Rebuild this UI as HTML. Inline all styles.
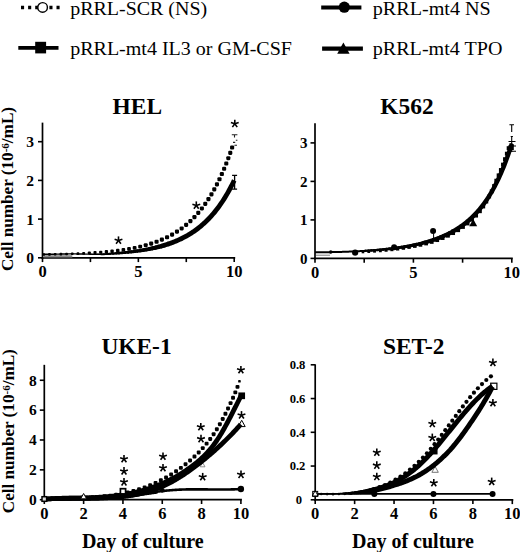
<!DOCTYPE html>
<html><head><meta charset="utf-8"><style>
html,body{margin:0;padding:0;background:#fff}
svg{display:block}
text{font-family:"Liberation Serif",serif;fill:#000}
.lg{font-size:19.4px}
.tt{font-size:23.4px;font-weight:bold}
.tk{font-size:16.5px;font-weight:bold}
.xl{font-size:20px;font-weight:bold}
.yl{font-size:16.3px;font-weight:bold}
</style></head><body>
<svg width="520" height="552" viewBox="0 0 520 552">
<rect width="520" height="552" fill="#fff"/>
<g>
<path d="M21 7.5 H61" fill="none" stroke="#000" stroke-width="3.4" stroke-linecap="butt" stroke-linejoin="round" stroke-dasharray="3.1 4"/>
<circle cx="42.60" cy="7.40" r="4.8" fill="#fff" stroke="#000" stroke-width="1.4"/>
<text x="70.2" y="14.7" class="lg" textLength="137" lengthAdjust="spacingAndGlyphs">pRRL-SCR (NS)</text>
<path d="M18.3 47.9 H58.5" fill="none" stroke="#000" stroke-width="3.7" stroke-linecap="butt" stroke-linejoin="round"/>
<rect x="35.2" y="41.8" width="10.9" height="11.6" fill="#000"/>
<text x="70.2" y="54.7" class="lg" textLength="221.8" lengthAdjust="spacingAndGlyphs">pRRL-mt4 IL3 or GM-CSF</text>
<path d="M321.2 7.4 H361.4" fill="none" stroke="#000" stroke-width="4" stroke-linecap="butt" stroke-linejoin="round"/>
<circle cx="344.30" cy="7.20" r="5.6" fill="#000" stroke="#000" stroke-width="0"/>
<text x="372.8" y="14.7" class="lg" textLength="118" lengthAdjust="spacingAndGlyphs">pRRL-mt4 NS</text>
<path d="M322.1 48.6 H362.9" fill="none" stroke="#000" stroke-width="4.2" stroke-linecap="butt" stroke-linejoin="round"/>
<path d="M343.4 42.6 L349.6 53.7 L337.2 53.7 Z" fill="#000"/>
<text x="372.8" y="54.7" class="lg" textLength="129.6" lengthAdjust="spacingAndGlyphs">pRRL-mt4 TPO</text>
</g>
<text x="137.3" y="114" text-anchor="middle" class="tt">HEL</text>
<line x1="42.50" y1="122.62" x2="42.50" y2="258.80" stroke="#000" stroke-width="1.7"/>
<line x1="41.50" y1="257.80" x2="235.20" y2="257.80" stroke="#000" stroke-width="1.7"/>
<line x1="42.50" y1="257.80" x2="42.50" y2="262.10" stroke="#000" stroke-width="1.6"/>
<line x1="90.43" y1="257.80" x2="90.43" y2="262.10" stroke="#000" stroke-width="1.6"/>
<line x1="138.35" y1="257.80" x2="138.35" y2="262.10" stroke="#000" stroke-width="1.6"/>
<line x1="186.28" y1="257.80" x2="186.28" y2="262.10" stroke="#000" stroke-width="1.6"/>
<line x1="234.20" y1="257.80" x2="234.20" y2="262.10" stroke="#000" stroke-width="1.6"/>
<line x1="38.00" y1="257.80" x2="42.50" y2="257.80" stroke="#000" stroke-width="1.6"/>
<line x1="38.00" y1="219.10" x2="42.50" y2="219.10" stroke="#000" stroke-width="1.6"/>
<line x1="38.00" y1="180.40" x2="42.50" y2="180.40" stroke="#000" stroke-width="1.6"/>
<line x1="38.00" y1="141.70" x2="42.50" y2="141.70" stroke="#000" stroke-width="1.6"/>
<text x="42.50" y="277.10" text-anchor="middle" class="tk">0</text>
<text x="138.35" y="277.10" text-anchor="middle" class="tk">5</text>
<text x="234.20" y="277.10" text-anchor="middle" class="tk">10</text>
<text x="34.10" y="263.20" text-anchor="end" class="tk" style="font-size:15.5px">0</text>
<text x="34.10" y="224.50" text-anchor="end" class="tk" style="font-size:15.5px">1</text>
<text x="34.10" y="185.80" text-anchor="end" class="tk" style="font-size:15.5px">2</text>
<text x="34.10" y="147.10" text-anchor="end" class="tk" style="font-size:15.5px">3</text>
<rect x="43.3" y="255.2" width="29" height="2.3" fill="#8a8a8a"/>
<path d="M42.50 254.33 L43.51 254.31 L44.52 254.30 L45.53 254.29 L46.54 254.28 L47.54 254.27 L48.55 254.26 L49.56 254.24 L50.57 254.23 L51.58 254.22 L52.59 254.20 L53.60 254.19 L54.61 254.17 L55.62 254.16 L56.63 254.14 L57.63 254.13 L58.64 254.11 L59.65 254.10 L60.66 254.08 L61.67 254.06 L62.68 254.04 L63.69 254.02 L64.70 254.00 L65.71 253.98 L66.71 253.96 L67.72 253.94 L68.73 253.92 L69.74 253.90 L70.75 253.88 L71.76 253.85 L72.77 253.83 L73.78 253.86 L74.79 253.88 L75.80 253.91 L76.80 253.93 L77.81 253.96 L78.82 253.98 L79.83 254.00 L80.84 254.02 L81.85 254.04 L82.86 254.06 L83.87 254.08 L84.88 254.10 L85.88 254.12 L86.89 254.13 L87.90 254.15 L88.91 254.16 L89.92 254.18 L90.93 254.19 L91.94 254.20" fill="none" stroke="#000" stroke-width="1.4" stroke-linecap="butt" stroke-linejoin="round"/>
<path d="M91.94 254.20 L92.95 254.21 L93.96 254.22 L94.97 254.22" fill="none" stroke="#000" stroke-width="1.4" stroke-linecap="round" stroke-linejoin="round"/>
<path d="M94.97 254.22 L95.97 254.23 L96.98 254.23 L97.99 254.24" fill="none" stroke="#000" stroke-width="1.53266" stroke-linecap="round" stroke-linejoin="round"/>
<path d="M97.99 254.24 L99.00 254.24 L100.01 254.24 L101.02 254.24" fill="none" stroke="#000" stroke-width="1.66807" stroke-linecap="round" stroke-linejoin="round"/>
<path d="M101.02 254.24 L102.03 254.24 L103.04 254.23 L104.05 254.18" fill="none" stroke="#000" stroke-width="1.80348" stroke-linecap="round" stroke-linejoin="round"/>
<path d="M104.05 254.18 L105.05 254.12 L106.06 254.06 L107.07 254.00" fill="none" stroke="#000" stroke-width="1.93889" stroke-linecap="round" stroke-linejoin="round"/>
<path d="M107.07 254.00 L108.08 253.93 L109.09 253.87 L110.10 253.80" fill="none" stroke="#000" stroke-width="2.0743" stroke-linecap="round" stroke-linejoin="round"/>
<path d="M110.10 253.80 L111.11 253.73 L112.12 253.66 L113.13 253.58" fill="none" stroke="#000" stroke-width="2.20971" stroke-linecap="round" stroke-linejoin="round"/>
<path d="M113.13 253.58 L114.14 253.51 L115.14 253.43 L116.15 253.35" fill="none" stroke="#000" stroke-width="2.34512" stroke-linecap="round" stroke-linejoin="round"/>
<path d="M116.15 253.35 L117.16 253.27 L118.17 253.18 L119.18 253.10" fill="none" stroke="#000" stroke-width="2.48054" stroke-linecap="round" stroke-linejoin="round"/>
<path d="M119.18 253.10 L120.19 253.01 L121.20 252.92 L122.21 252.82" fill="none" stroke="#000" stroke-width="2.61595" stroke-linecap="round" stroke-linejoin="round"/>
<path d="M122.21 252.82 L123.22 252.73 L124.22 252.63 L125.23 252.52" fill="none" stroke="#000" stroke-width="2.75136" stroke-linecap="round" stroke-linejoin="round"/>
<path d="M125.23 252.52 L126.24 252.42 L127.25 252.31 L128.26 252.20" fill="none" stroke="#000" stroke-width="2.88677" stroke-linecap="round" stroke-linejoin="round"/>
<path d="M128.26 252.20 L129.27 252.08 L130.28 251.97 L131.29 251.84" fill="none" stroke="#000" stroke-width="3.02218" stroke-linecap="round" stroke-linejoin="round"/>
<path d="M131.29 251.84 L132.30 251.72 L133.31 251.59 L134.31 251.46" fill="none" stroke="#000" stroke-width="3.15759" stroke-linecap="round" stroke-linejoin="round"/>
<path d="M134.31 251.46 L135.32 251.32 L136.33 251.18 L137.34 251.04" fill="none" stroke="#000" stroke-width="3.293" stroke-linecap="round" stroke-linejoin="round"/>
<path d="M137.34 251.04 L138.35 250.89 L139.36 250.74 L140.37 250.59" fill="none" stroke="#000" stroke-width="3.42842" stroke-linecap="round" stroke-linejoin="round"/>
<path d="M140.37 250.59 L141.38 250.43 L142.39 250.26 L143.39 250.09" fill="none" stroke="#000" stroke-width="3.56383" stroke-linecap="round" stroke-linejoin="round"/>
<path d="M143.39 250.09 L144.40 249.92 L145.41 249.74 L146.42 249.55" fill="none" stroke="#000" stroke-width="3.69924" stroke-linecap="round" stroke-linejoin="round"/>
<path d="M146.42 249.55 L147.43 249.36 L148.44 249.17 L149.45 248.97" fill="none" stroke="#000" stroke-width="3.83465" stroke-linecap="round" stroke-linejoin="round"/>
<path d="M149.45 248.97 L150.46 248.76 L151.47 248.55 L152.48 248.33" fill="none" stroke="#000" stroke-width="3.97006" stroke-linecap="round" stroke-linejoin="round"/>
<path d="M152.48 248.33 L153.48 248.11 L154.49 247.88 L155.50 247.64" fill="none" stroke="#000" stroke-width="4.10547" stroke-linecap="round" stroke-linejoin="round"/>
<path d="M155.50 247.64 L156.51 247.40 L157.52 247.15 L158.53 246.89" fill="none" stroke="#000" stroke-width="4.24088" stroke-linecap="round" stroke-linejoin="round"/>
<path d="M158.53 246.89 L159.54 246.63 L160.55 246.35 L161.56 246.07" fill="none" stroke="#000" stroke-width="4.3763" stroke-linecap="round" stroke-linejoin="round"/>
<path d="M161.56 246.07 L162.56 245.79 L163.57 245.49 L164.58 245.18" fill="none" stroke="#000" stroke-width="4.51171" stroke-linecap="round" stroke-linejoin="round"/>
<path d="M164.58 245.18 L165.59 244.87 L166.60 244.55 L167.61 244.22" fill="none" stroke="#000" stroke-width="4.64712" stroke-linecap="round" stroke-linejoin="round"/>
<path d="M167.61 244.22 L168.62 243.88 L169.63 243.53 L170.64 243.17 L171.65 242.80 L172.65 242.42 L173.66 242.03 L174.67 241.62 L175.68 241.21 L176.69 240.78 L177.70 240.35 L178.71 239.90 L179.72 239.43 L180.73 238.96 L181.73 238.47 L182.74 237.97 L183.75 237.45 L184.76 236.92 L185.77 236.37 L186.78 235.81 L187.79 235.23 L188.80 234.64 L189.81 234.02 L190.82 233.40 L191.82 232.75 L192.83 232.08 L193.84 231.40 L194.85 230.70 L195.86 229.97 L196.87 229.23 L197.88 228.47 L198.89 227.68 L199.90 226.87 L200.90 226.04 L201.91 225.19 L202.92 224.31 L203.93 223.40 L204.94 222.47 L205.95 221.52 L206.96 220.54 L207.97 219.53 L208.98 218.49 L209.99 217.42 L210.99 216.32 L212.00 215.19 L213.01 214.03 L214.02 212.84 L215.03 211.61 L216.04 210.34 L217.05 209.05 L218.06 207.71 L219.07 206.34 L220.07 204.93 L221.08 203.47 L222.09 201.98 L223.10 200.45 L224.11 198.87 L225.12 197.24 L226.13 195.57 L227.14 193.86 L228.15 192.09 L229.16 190.28 L230.16 188.41 L231.17 186.49 L232.18 184.52 L233.19 182.49 L234.20 180.40" fill="none" stroke="#000" stroke-width="4.8" stroke-linecap="butt" stroke-linejoin="round"/>
<g fill="#000"><rect x="230.07" y="145.43" width="4.10" height="4.10" rx="1.15"/><rect x="228.22" y="150.82" width="4.10" height="4.10" rx="1.15"/><rect x="226.27" y="156.17" width="4.10" height="4.10" rx="1.15"/><rect x="224.22" y="161.49" width="4.10" height="4.10" rx="1.15"/><rect x="222.08" y="166.77" width="4.10" height="4.10" rx="1.15"/><rect x="219.81" y="172.01" width="4.10" height="4.10" rx="1.15"/><rect x="217.43" y="177.18" width="4.10" height="4.10" rx="1.15"/><rect x="214.90" y="182.29" width="4.10" height="4.10" rx="1.15"/><rect x="212.23" y="187.33" width="4.10" height="4.10" rx="1.15"/><rect x="209.40" y="192.28" width="4.10" height="4.10" rx="1.15"/><rect x="206.40" y="197.12" width="4.10" height="4.10" rx="1.15"/><rect x="203.21" y="201.84" width="4.10" height="4.10" rx="1.15"/><rect x="199.82" y="206.42" width="4.10" height="4.10" rx="1.15"/><rect x="196.22" y="210.84" width="4.10" height="4.10" rx="1.15"/><rect x="192.39" y="215.07" width="4.10" height="4.10" rx="1.15"/><rect x="188.35" y="219.09" width="4.10" height="4.10" rx="1.15"/><rect x="184.08" y="222.86" width="4.10" height="4.10" rx="1.15"/><rect x="179.60" y="226.38" width="4.10" height="4.10" rx="1.15"/><rect x="174.91" y="229.62" width="4.10" height="4.10" rx="1.15"/><rect x="170.04" y="232.58" width="4.10" height="4.10" rx="1.15"/><rect x="165.00" y="235.24" width="4.10" height="4.10" rx="1.15"/><rect x="159.82" y="237.61" width="4.10" height="4.10" rx="1.15"/><rect x="154.52" y="239.72" width="4.10" height="4.10" rx="1.15"/><rect x="149.13" y="241.56" width="4.10" height="4.10" rx="1.15"/><rect x="143.70" y="243.21" width="4.02" height="4.02" rx="1.13"/><rect x="138.23" y="244.66" width="3.92" height="3.92" rx="1.10"/><rect x="132.71" y="245.92" width="3.81" height="3.81" rx="1.07"/><rect x="127.16" y="247.02" width="3.71" height="3.71" rx="1.04"/><rect x="121.58" y="247.97" width="3.60" height="3.60" rx="1.01"/><rect x="115.99" y="248.79" width="3.50" height="3.50" rx="0.98"/><rect x="110.38" y="249.50" width="3.39" height="3.39" rx="0.95"/><rect x="104.76" y="250.12" width="3.28" height="3.28" rx="0.92"/><rect x="99.13" y="250.66" width="3.18" height="3.18" rx="0.89"/><rect x="93.50" y="251.12" width="3.07" height="3.07" rx="0.86"/><rect x="87.87" y="251.53" width="2.96" height="2.96" rx="0.83"/><rect x="82.23" y="251.89" width="2.86" height="2.86" rx="0.80"/><rect x="76.59" y="252.20" width="2.75" height="2.75" rx="0.77"/><rect x="70.94" y="252.47" width="2.64" height="2.64" rx="0.74"/><rect x="65.27" y="252.68" width="2.60" height="2.60" rx="0.73"/><rect x="59.57" y="252.85" width="2.60" height="2.60" rx="0.73"/><rect x="53.87" y="252.98" width="2.60" height="2.60" rx="0.73"/><rect x="48.17" y="253.10" width="2.60" height="2.60" rx="0.73"/><rect x="42.48" y="253.20" width="2.60" height="2.60" rx="0.73"/></g>
<path d="M234.60 175.40 V189.10 M232.10 175.40 H237.10 M232.10 189.10 H237.10" stroke="#000" stroke-width="1.3" fill="none"/>
<path d="M231.8 134.7 H237.4 M234.5 134.7 V137.5 M235.8 140.3 h1.6 M233 142.4 h2.2 M234.4 145.2 h2.6" stroke="#222" stroke-width="1.1" fill="none"/>
<g stroke="#000" stroke-width="1.60" stroke-linecap="butt"><line x1="118.50" y1="240.50" x2="118.50" y2="236.40"/><line x1="118.50" y1="240.50" x2="122.40" y2="239.23"/><line x1="118.50" y1="240.50" x2="114.60" y2="239.23"/><line x1="118.50" y1="240.50" x2="120.91" y2="243.82"/><line x1="118.50" y1="240.50" x2="116.09" y2="243.82"/></g>
<g stroke="#000" stroke-width="1.60" stroke-linecap="butt"><line x1="196.30" y1="205.50" x2="196.30" y2="201.40"/><line x1="196.30" y1="205.50" x2="200.20" y2="204.23"/><line x1="196.30" y1="205.50" x2="192.40" y2="204.23"/><line x1="196.30" y1="205.50" x2="198.71" y2="208.82"/><line x1="196.30" y1="205.50" x2="193.89" y2="208.82"/></g>
<g stroke="#000" stroke-width="1.60" stroke-linecap="butt"><line x1="234.80" y1="123.80" x2="234.80" y2="119.70"/><line x1="234.80" y1="123.80" x2="238.70" y2="122.53"/><line x1="234.80" y1="123.80" x2="230.90" y2="122.53"/><line x1="234.80" y1="123.80" x2="237.21" y2="127.12"/><line x1="234.80" y1="123.80" x2="232.39" y2="127.12"/></g>
<text x="407" y="114" text-anchor="middle" class="tt">K562</text>
<line x1="315.00" y1="123.15" x2="315.00" y2="259.40" stroke="#000" stroke-width="1.7"/>
<line x1="314.00" y1="258.40" x2="512.80" y2="258.40" stroke="#000" stroke-width="1.7"/>
<line x1="315.00" y1="258.40" x2="315.00" y2="262.70" stroke="#000" stroke-width="1.6"/>
<line x1="364.20" y1="258.40" x2="364.20" y2="262.70" stroke="#000" stroke-width="1.6"/>
<line x1="413.40" y1="258.40" x2="413.40" y2="262.70" stroke="#000" stroke-width="1.6"/>
<line x1="462.60" y1="258.40" x2="462.60" y2="262.70" stroke="#000" stroke-width="1.6"/>
<line x1="511.80" y1="258.40" x2="511.80" y2="262.70" stroke="#000" stroke-width="1.6"/>
<line x1="310.50" y1="258.40" x2="315.00" y2="258.40" stroke="#000" stroke-width="1.6"/>
<line x1="310.50" y1="219.90" x2="315.00" y2="219.90" stroke="#000" stroke-width="1.6"/>
<line x1="310.50" y1="181.40" x2="315.00" y2="181.40" stroke="#000" stroke-width="1.6"/>
<line x1="310.50" y1="142.90" x2="315.00" y2="142.90" stroke="#000" stroke-width="1.6"/>
<text x="315.00" y="277.70" text-anchor="middle" class="tk">0</text>
<text x="413.40" y="277.70" text-anchor="middle" class="tk">5</text>
<text x="511.80" y="277.70" text-anchor="middle" class="tk">10</text>
<text x="307.40" y="263.60" text-anchor="end" class="tk" style="font-size:15px">0</text>
<text x="307.40" y="225.10" text-anchor="end" class="tk" style="font-size:15px">1</text>
<text x="307.40" y="186.60" text-anchor="end" class="tk" style="font-size:15px">2</text>
<text x="307.40" y="148.10" text-anchor="end" class="tk" style="font-size:15px">3</text>
<path d="M315.00 252.27 L315.98 252.27 L316.97 252.27 L317.95 252.26 L318.94 252.26 L319.92 252.25 L320.90 252.25 L321.89 252.24 L322.87 252.23 L323.86 252.22 L324.84 252.21 L325.82 252.20 L326.81 252.19 L327.79 252.17 L328.78 252.16 L329.76 252.14 L330.74 252.13 L331.73 252.11 L332.71 252.09 L333.70 252.07 L334.68 252.05 L335.66 252.03 L336.65 252.01 L337.63 251.99 L338.62 251.96 L339.60 251.94 L340.58 251.91 L341.57 251.88 L342.55 251.85 L343.54 251.82 L344.52 251.79 L345.50 251.76 L346.49 251.72 L347.47 251.69 L348.46 251.65 L349.44 251.62 L350.42 251.58 L351.41 251.54 L352.39 251.50 L353.38 251.46 L354.36 251.41 L355.34 251.37 L356.33 251.32 L357.31 251.27 L358.30 251.23 L359.28 251.17 L360.26 251.12 L361.25 251.07 L362.23 251.02 L363.22 250.96 L364.20 250.90 L365.18 250.84 L366.17 250.78 L367.15 250.72 L368.14 250.65 L369.12 250.59 L370.10 250.52 L371.09 250.45 L372.07 250.38 L373.06 250.31 L374.04 250.23 L375.02 250.16 L376.01 250.08 L376.99 250.00 L377.98 249.91 L378.96 249.83 L379.94 249.74 L380.93 249.65 L381.91 249.56 L382.90 249.47 L383.88 249.37 L384.86 249.28 L385.85 249.18 L386.83 249.07 L387.82 248.97 L388.80 248.86 L389.78 248.75 L390.77 248.64 L391.75 248.52 L392.74 248.40 L393.72 248.28 L394.70 248.16 L395.69 248.03 L396.67 247.90 L397.66 247.77 L398.64 247.63 L399.62 247.49 L400.61 247.34 L401.59 247.20 L402.58 247.05 L403.56 246.89 L404.54 246.73 L405.53 246.57 L406.51 246.41 L407.50 246.24 L408.48 246.06 L409.46 245.89 L410.45 245.70 L411.43 245.52 L412.42 245.32 L413.40 245.13 L414.38 244.93 L415.37 244.72 L416.35 244.51 L417.34 244.29 L418.32 244.07 L419.30 243.85 L420.29 243.61 L421.27 243.38 L422.26 243.13 L423.24 242.88 L424.22 242.62 L425.21 242.36 L426.19 242.09 L427.18 241.81 L428.16 241.53 L429.14 241.24 L430.13 240.94 L431.11 240.64 L432.10 240.32 L433.08 240.00 L434.06 239.67 L435.05 239.33 L436.03 238.99 L437.02 238.63 L438.00 238.27 L438.98 237.89 L439.97 237.51 L440.95 237.11 L441.94 236.71 L442.92 236.29 L443.90 235.87 L444.89 235.43 L445.87 234.98 L446.86 234.52 L447.84 234.05 L448.82 233.56 L449.81 233.06 L450.79 232.55 L451.78 232.02 L452.76 231.48 L453.74 230.93 L454.73 230.36 L455.71 229.77 L456.70 229.17 L457.68 228.55 L458.66 227.91 L459.65 227.26 L460.63 226.59 L461.62 225.90 L462.60 225.19 L463.58 224.46 L464.57 223.71 L465.55 222.94 L466.54 222.15 L467.52 221.33 L468.50 220.49 L469.49 219.63 L470.47 218.74 L471.46 217.83 L472.44 216.89 L473.42 215.93 L474.41 214.93 L475.39 213.91 L476.38 212.86 L477.36 211.77 L478.34 210.66 L479.33 209.51 L480.31 208.33 L481.30 207.11 L482.28 205.86 L483.26 204.57 L484.25 203.24 L485.23 201.87 L486.22 200.46 L487.20 199.01 L488.18 197.51 L489.17 195.97 L490.15 194.38 L491.14 192.74 L492.12 191.05 L493.10 189.31 L494.09 187.52 L495.07 185.67 L496.06 183.76 L497.04 181.79 L498.02 179.76 L499.01 177.67 L499.99 175.52 L500.98 173.29 L501.96 170.99 L502.94 168.62 L503.93 166.18 L504.91 163.66 L505.90 161.05 L506.88 158.37 L507.86 155.59 L508.85 152.73 L509.83 149.78 L510.82 146.72 L511.80 143.57" fill="none" stroke="#000" stroke-width="2" stroke-linecap="butt" stroke-linejoin="round"/>
<path d="M473.20 219.08 L477.20 226.28 L469.20 226.28 Z" fill="#000" stroke="#000" stroke-width="0"/>
<g fill="#000"><rect x="361.65" y="250.66" width="2.62" height="2.62"/><rect x="367.39" y="250.26" width="2.73" height="2.73"/><rect x="373.12" y="249.81" width="2.83" height="2.83"/><rect x="378.85" y="249.29" width="2.94" height="2.94"/><rect x="384.57" y="248.70" width="3.05" height="3.05"/><rect x="390.28" y="248.03" width="3.15" height="3.15"/><rect x="395.99" y="247.27" width="3.26" height="3.26"/><rect x="401.68" y="246.40" width="3.37" height="3.37"/><rect x="407.35" y="245.42" width="3.47" height="3.47"/><rect x="413.00" y="244.30" width="3.58" height="3.58"/><rect x="418.61" y="243.03" width="3.69" height="3.69"/><rect x="424.19" y="241.59" width="3.79" height="3.79"/><rect x="429.72" y="239.95" width="3.89" height="3.89"/><rect x="435.22" y="238.13" width="3.90" height="3.90"/><rect x="440.64" y="236.07" width="3.90" height="3.90"/><rect x="445.96" y="233.74" width="3.90" height="3.90"/><rect x="451.13" y="231.12" width="3.90" height="3.90"/><rect x="456.15" y="228.22" width="3.90" height="3.90"/><rect x="460.98" y="225.00" width="3.90" height="3.90"/><rect x="465.59" y="221.49" width="3.90" height="3.90"/><rect x="469.98" y="217.70" width="3.90" height="3.90"/><rect x="474.12" y="213.64" width="3.90" height="3.90"/><rect x="477.92" y="209.27" width="3.90" height="3.90"/><rect x="481.27" y="204.53" width="3.90" height="3.90"/><rect x="484.35" y="199.62" width="3.90" height="3.90"/><rect x="487.18" y="194.56" width="3.90" height="3.90"/><rect x="489.78" y="189.37" width="3.90" height="3.90"/><rect x="492.16" y="184.08" width="3.90" height="3.90"/><rect x="494.35" y="178.71" width="3.90" height="3.90"/><rect x="496.68" y="173.40" width="3.90" height="3.90"/><rect x="498.93" y="168.06" width="3.90" height="3.90"/><rect x="501.05" y="162.66" width="3.90" height="3.90"/><rect x="503.04" y="157.21" width="3.90" height="3.90"/><rect x="504.91" y="151.72" width="3.90" height="3.90"/><rect x="506.69" y="146.20" width="3.90" height="3.90"/></g>
<path d="M360.26 251.12 L361.26 251.07 L362.26 251.01" fill="none" stroke="#000" stroke-width="2" stroke-linecap="butt" stroke-linejoin="round"/>
<path d="M362.26 251.01 L363.26 250.96 L364.26 250.90 L365.26 250.84" fill="none" stroke="#000" stroke-width="2.00704" stroke-linecap="round" stroke-linejoin="round"/>
<path d="M365.26 250.84 L366.26 250.78 L367.26 250.71 L368.26 250.65" fill="none" stroke="#000" stroke-width="2.08704" stroke-linecap="round" stroke-linejoin="round"/>
<path d="M368.26 250.65 L369.26 250.58 L370.26 250.51 L371.26 250.44" fill="none" stroke="#000" stroke-width="2.16704" stroke-linecap="round" stroke-linejoin="round"/>
<path d="M371.26 250.44 L372.26 250.37 L373.26 250.29 L374.26 250.22" fill="none" stroke="#000" stroke-width="2.24704" stroke-linecap="round" stroke-linejoin="round"/>
<path d="M374.26 250.22 L375.26 250.14 L376.26 250.06 L377.26 249.97" fill="none" stroke="#000" stroke-width="2.32704" stroke-linecap="round" stroke-linejoin="round"/>
<path d="M377.26 249.97 L378.26 249.89 L379.26 249.80 L380.26 249.71" fill="none" stroke="#000" stroke-width="2.40704" stroke-linecap="round" stroke-linejoin="round"/>
<path d="M380.26 249.71 L381.26 249.62 L382.26 249.53 L383.26 249.43" fill="none" stroke="#000" stroke-width="2.48704" stroke-linecap="round" stroke-linejoin="round"/>
<path d="M383.26 249.43 L384.26 249.34 L385.26 249.24 L386.26 249.13" fill="none" stroke="#000" stroke-width="2.56704" stroke-linecap="round" stroke-linejoin="round"/>
<path d="M386.26 249.13 L387.26 249.03 L388.26 248.92 L389.26 248.81" fill="none" stroke="#000" stroke-width="2.64704" stroke-linecap="round" stroke-linejoin="round"/>
<path d="M389.26 248.81 L390.26 248.70 L391.26 248.58 L392.26 248.46" fill="none" stroke="#000" stroke-width="2.72704" stroke-linecap="round" stroke-linejoin="round"/>
<path d="M392.26 248.46 L393.26 248.34 L394.26 248.21 L395.26 248.08" fill="none" stroke="#000" stroke-width="2.80704" stroke-linecap="round" stroke-linejoin="round"/>
<path d="M395.26 248.08 L396.26 247.95 L397.26 247.82 L398.26 247.68" fill="none" stroke="#000" stroke-width="2.88704" stroke-linecap="round" stroke-linejoin="round"/>
<path d="M398.26 247.68 L399.26 247.54 L400.26 247.39 L401.26 247.25" fill="none" stroke="#000" stroke-width="2.96704" stroke-linecap="round" stroke-linejoin="round"/>
<path d="M401.26 247.25 L402.26 247.09 L403.26 246.94 L404.26 246.78" fill="none" stroke="#000" stroke-width="3.04704" stroke-linecap="round" stroke-linejoin="round"/>
<path d="M404.26 246.78 L405.26 246.62 L406.26 246.45 L407.26 246.28" fill="none" stroke="#000" stroke-width="3.12704" stroke-linecap="round" stroke-linejoin="round"/>
<path d="M407.26 246.28 L408.26 246.10 L409.26 245.92 L410.26 245.74" fill="none" stroke="#000" stroke-width="3.20704" stroke-linecap="round" stroke-linejoin="round"/>
<path d="M410.26 245.74 L411.26 245.55 L412.26 245.35 L413.26 245.16" fill="none" stroke="#000" stroke-width="3.28704" stroke-linecap="round" stroke-linejoin="round"/>
<path d="M413.26 245.16 L414.26 244.95 L415.26 244.74 L416.26 244.53" fill="none" stroke="#000" stroke-width="3.36704" stroke-linecap="round" stroke-linejoin="round"/>
<path d="M416.26 244.53 L417.26 244.31 L418.26 244.09 L419.26 243.86" fill="none" stroke="#000" stroke-width="3.44704" stroke-linecap="round" stroke-linejoin="round"/>
<path d="M419.26 243.86 L420.26 243.62 L421.26 243.38 L422.26 243.13" fill="none" stroke="#000" stroke-width="3.52704" stroke-linecap="round" stroke-linejoin="round"/>
<path d="M422.26 243.13 L423.26 242.87 L424.26 242.61 L425.26 242.35" fill="none" stroke="#000" stroke-width="3.60704" stroke-linecap="round" stroke-linejoin="round"/>
<path d="M425.26 242.35 L426.26 242.07 L427.26 241.79 L428.26 241.50" fill="none" stroke="#000" stroke-width="3.68704" stroke-linecap="round" stroke-linejoin="round"/>
<path d="M428.26 241.50 L429.26 241.20 L430.26 240.90 L431.26 240.59" fill="none" stroke="#000" stroke-width="3.76704" stroke-linecap="round" stroke-linejoin="round"/>
<path d="M431.26 240.59 L432.26 240.27 L433.26 239.94 L434.26 239.60" fill="none" stroke="#000" stroke-width="3.84704" stroke-linecap="round" stroke-linejoin="round"/>
<path d="M434.26 239.60 L435.26 239.26 L436.26 238.90 L437.26 238.54" fill="none" stroke="#000" stroke-width="3.92704" stroke-linecap="round" stroke-linejoin="round"/>
<path d="M437.26 238.54 L438.26 238.17 L439.26 237.78 L440.26 237.39" fill="none" stroke="#000" stroke-width="4.00704" stroke-linecap="round" stroke-linejoin="round"/>
<path d="M440.26 237.39 L441.26 236.99 L442.26 236.57 L443.26 236.14" fill="none" stroke="#000" stroke-width="4.08704" stroke-linecap="round" stroke-linejoin="round"/>
<path d="M443.26 236.14 L444.26 235.71 L445.26 235.26 L446.26 234.80" fill="none" stroke="#000" stroke-width="4.16704" stroke-linecap="round" stroke-linejoin="round"/>
<path d="M446.26 234.80 L447.26 234.32 L448.26 233.84 L449.26 233.34" fill="none" stroke="#000" stroke-width="4.24704" stroke-linecap="round" stroke-linejoin="round"/>
<path d="M449.26 233.34 L450.26 232.82 L451.26 232.30 L452.26 231.75" fill="none" stroke="#000" stroke-width="4.32704" stroke-linecap="round" stroke-linejoin="round"/>
<path d="M452.26 231.75 L453.26 231.20 L454.26 230.63 L455.26 230.04 L456.26 229.43 L457.26 228.81 L458.26 228.17 L459.26 227.52 L460.26 226.84 L461.26 226.15 L462.26 225.43 L463.26 224.70 L464.26 223.94 L465.26 223.17 L466.26 222.37 L467.26 221.54 L468.26 220.70 L469.26 219.83 L470.26 218.93 L471.26 218.01 L472.26 217.06 L473.26 216.08 L474.26 215.08 L475.26 214.04 L476.26 212.98 L477.26 211.88 L478.26 210.75 L479.26 209.59 L480.26 208.38 L481.26 207.15 L482.26 205.88 L483.26 204.57 L484.26 203.21 L485.26 201.82 L486.26 200.39 L487.26 198.91 L488.26 197.38 L489.26 195.81 L490.26 194.19 L491.26 192.52 L492.26 190.80 L493.26 189.02 L494.26 187.19 L495.26 185.30 L496.26 183.34 L497.26 181.33 L498.26 179.26 L499.26 177.11 L500.26 174.90 L501.26 172.62 L502.26 170.26 L503.26 167.83 L504.26 165.33 L505.26 162.73 L506.26 160.05 L507.26 157.30 L508.26 154.44 L509.26 151.49 L510.26 148.45 L511.26 145.30 L511.80 143.57" fill="none" stroke="#000" stroke-width="4.4" stroke-linecap="butt" stroke-linejoin="round"/>
<circle cx="330.74" cy="252.05" r="1.8" fill="#000" stroke="#000" stroke-width="0"/>
<circle cx="355.15" cy="252.70" r="3.1" fill="#000" stroke="#000" stroke-width="0"/>
<path d="M316 255.2 H330" stroke="#555" stroke-width="0.8"/>
<circle cx="394.11" cy="247.23" r="3" fill="#000" stroke="#000" stroke-width="0"/>
<circle cx="433.08" cy="231.06" r="3" fill="#000" stroke="#000" stroke-width="0"/>
<path d="M433.6 233.5 V238.5 M432 238.5 h3.4" stroke="#000" stroke-width="1" fill="none"/>
<rect x="508.80" y="145.00" width="5" height="5" fill="#000" stroke="#000" stroke-width="0"/>
<path d="M509.4 124.8 H514 M511.7 124.8 V132 M510.7 136.5 H512.9 M511.7 136 V152 M508.5 141.5 H515.5 M508.5 146 H516 M508.5 151.3 H516" stroke="#000" stroke-width="1.1" fill="none"/>
<text x="136.5" y="354" text-anchor="middle" class="tt">UKE-1</text>
<line x1="44.30" y1="364.83" x2="44.30" y2="500.70" stroke="#000" stroke-width="1.7"/>
<line x1="43.30" y1="499.70" x2="241.90" y2="499.70" stroke="#000" stroke-width="1.7"/>
<line x1="44.30" y1="499.70" x2="44.30" y2="504.00" stroke="#000" stroke-width="1.6"/>
<line x1="83.62" y1="499.70" x2="83.62" y2="504.00" stroke="#000" stroke-width="1.6"/>
<line x1="122.94" y1="499.70" x2="122.94" y2="504.00" stroke="#000" stroke-width="1.6"/>
<line x1="162.26" y1="499.70" x2="162.26" y2="504.00" stroke="#000" stroke-width="1.6"/>
<line x1="201.58" y1="499.70" x2="201.58" y2="504.00" stroke="#000" stroke-width="1.6"/>
<line x1="240.90" y1="499.70" x2="240.90" y2="504.00" stroke="#000" stroke-width="1.6"/>
<line x1="39.80" y1="499.70" x2="44.30" y2="499.70" stroke="#000" stroke-width="1.6"/>
<line x1="39.80" y1="469.84" x2="44.30" y2="469.84" stroke="#000" stroke-width="1.6"/>
<line x1="39.80" y1="439.98" x2="44.30" y2="439.98" stroke="#000" stroke-width="1.6"/>
<line x1="39.80" y1="410.12" x2="44.30" y2="410.12" stroke="#000" stroke-width="1.6"/>
<line x1="39.80" y1="380.26" x2="44.30" y2="380.26" stroke="#000" stroke-width="1.6"/>
<text x="44.30" y="519.00" text-anchor="middle" class="tk">0</text>
<text x="83.62" y="519.00" text-anchor="middle" class="tk">2</text>
<text x="122.94" y="519.00" text-anchor="middle" class="tk">4</text>
<text x="162.26" y="519.00" text-anchor="middle" class="tk">6</text>
<text x="201.58" y="519.00" text-anchor="middle" class="tk">8</text>
<text x="240.90" y="519.00" text-anchor="middle" class="tk">10</text>
<text x="36.70" y="505.00" text-anchor="end" class="tk" style="font-size:15.5px">0</text>
<text x="36.70" y="475.14" text-anchor="end" class="tk" style="font-size:15.5px">2</text>
<text x="36.70" y="445.28" text-anchor="end" class="tk" style="font-size:15.5px">4</text>
<text x="36.70" y="415.42" text-anchor="end" class="tk" style="font-size:15.5px">6</text>
<text x="36.70" y="385.56" text-anchor="end" class="tk" style="font-size:15.5px">8</text>
<rect x="238.35" y="392.45" width="6.7" height="6.7" fill="#000" stroke="#000" stroke-width="0"/>
<path d="M241.70 420.28 L245.20 426.58 L238.20 426.58 Z" fill="#fff" stroke="#000" stroke-width="1"/>
<path d="M202.6 462.5 L205 466.8 L200.2 466.8 Z" fill="#fff" stroke="#777" stroke-width="0.8"/>
<path d="M44.30 499.23 L45.30 499.19 L46.30 499.15 L47.30 499.11 L48.30 499.08 L49.30 499.05 L50.30 499.02 L51.30 498.99 L52.30 498.97 L53.30 498.95 L54.30 498.93 L55.30 498.91 L56.30 498.89 L57.30 498.88 L58.30 498.87 L59.30 498.86 L60.30 498.85 L61.30 498.84 L62.30 498.83 L63.30 498.82 L64.30 498.82 L65.30 498.81 L66.30 498.81 L67.30 498.81 L68.30 498.80 L69.30 498.80 L70.30 498.80 L71.30 498.80 L72.30 498.80 L73.30 498.80 L74.30 498.79 L75.30 498.79 L76.30 498.79 L77.30 498.78 L78.30 498.78 L79.30 498.78 L80.30 498.77 L81.30 498.76 L82.30 498.76 L83.30 498.75 L84.30 498.74 L85.30 498.72 L86.30 498.71 L87.30 498.70 L88.30 498.68 L89.30 498.66 L90.30 498.64 L91.30 498.62 L92.30 498.59 L93.30 498.56 L94.30 498.54 L95.30 498.50 L96.30 498.47 L97.30 498.43 L98.30 498.39 L99.30 498.34 L100.30 498.30 L101.30 498.25 L102.30 498.19 L103.30 498.14 L104.30 498.08 L105.30 498.01 L106.30 497.94 L107.30 497.87 L108.30 497.80 L109.30 497.72 L110.30 497.64 L111.30 497.56 L112.30 497.47 L113.30 497.38 L114.30 497.29 L115.30 497.19 L116.30 497.10 L117.30 496.99 L118.30 496.89 L119.30 496.79 L120.30 496.68 L121.30 496.57 L122.30 496.45 L123.30 496.34 L124.30 496.22 L125.30 496.10 L126.30 495.98 L127.30 495.86 L128.30 495.73 L129.30 495.61 L130.30 495.48 L131.30 495.35 L132.30 495.22 L133.30 495.08 L134.30 494.95 L135.30 494.81 L136.30 494.68 L137.30 494.54 L138.30 494.40 L139.30 494.26 L140.30 494.11 L141.30 493.97 L142.30 493.83 L143.30 493.68 L144.30 493.54 L145.30 493.39 L146.30 493.25 L147.30 493.10 L148.30 492.95 L149.30 492.81 L150.30 492.67 L151.30 492.52 L152.30 492.38 L153.30 492.24 L154.30 492.10 L155.30 491.97 L156.30 491.83 L157.30 491.70 L158.30 491.57 L159.30 491.44 L160.30 491.32 L161.30 491.20 L162.30 491.08 L163.30 490.97 L164.30 490.86 L165.30 490.76 L166.30 490.65 L167.30 490.56 L168.30 490.46 L169.30 490.37 L170.30 490.28 L171.30 490.20 L172.30 490.12 L173.30 490.04 L174.30 489.97 L175.30 489.91 L176.30 489.84 L177.30 489.78 L178.30 489.73 L179.30 489.67 L180.30 489.63 L181.30 489.58 L182.30 489.54 L183.30 489.51 L184.30 489.48 L185.30 489.45 L186.30 489.42 L187.30 489.40 L188.30 489.38 L189.30 489.37 L190.30 489.35 L191.30 489.34 L192.30 489.34 L193.30 489.33 L194.30 489.33 L195.30 489.33 L196.30 489.33 L197.30 489.33 L198.30 489.33 L199.30 489.34 L200.30 489.35 L201.30 489.35 L202.30 489.36 L203.30 489.37 L204.30 489.38 L205.30 489.40 L206.30 489.41 L207.30 489.42 L208.30 489.43 L209.30 489.44 L210.30 489.46 L211.30 489.47 L212.30 489.48 L213.30 489.49 L214.30 489.50 L215.30 489.51 L216.30 489.52 L217.30 489.52 L218.30 489.53 L219.30 489.54 L220.30 489.54 L221.30 489.54 L222.30 489.54 L223.30 489.54 L224.30 489.53 L225.30 489.52 L226.30 489.51 L227.30 489.50 L228.30 489.49 L229.30 489.47 L230.30 489.45 L231.30 489.42 L232.30 489.40 L233.30 489.37 L234.30 489.33 L235.30 489.29 L236.30 489.25 L237.30 489.20 L238.30 489.15 L239.30 489.10 L240.30 489.04 L240.70 489.01" fill="none" stroke="#000" stroke-width="2.6" stroke-linecap="butt" stroke-linejoin="round"/>
<path d="M44.30 499.23 L45.30 499.19 L46.30 499.15 L47.30 499.11 L48.30 499.08 L49.30 499.05 L50.30 499.02 L51.30 498.99 L52.30 498.97 L53.30 498.95 L54.30 498.93 L55.30 498.91 L56.30 498.89 L57.30 498.88 L58.30 498.87 L59.30 498.86 L60.30 498.85 L61.30 498.84 L62.30 498.83 L63.30 498.82 L64.30 498.82 L65.30 498.81 L66.30 498.81 L67.30 498.81 L68.30 498.80 L69.30 498.80 L70.30 498.80 L71.30 498.80 L72.30 498.80 L73.30 498.80 L74.30 498.79 L75.30 498.79 L76.30 498.79 L77.30 498.78 L78.30 498.78 L79.30 498.78 L80.30 498.77 L81.30 498.76 L82.30 498.76 L83.30 498.75 L84.30 498.74 L85.30 498.72 L86.30 498.71 L87.30 498.70 L88.30 498.68 L89.30 498.66 L90.30 498.64 L91.30 498.62 L92.30 498.59 L93.30 498.56 L94.30 498.54 L95.30 498.50 L96.30 498.47 L97.30 498.43 L98.30 498.39 L99.30 498.34 L100.30 498.30 L101.30 498.25 L102.30 498.19 L103.30 498.14 L104.30 498.08 L105.30 498.01 L106.30 497.94 L107.30 497.87 L108.30 497.80 L109.30 497.72 L110.30 497.64 L111.30 497.56 L112.30 497.47 L113.30 497.38 L114.30 497.29 L115.30 497.19 L116.30 497.10 L117.30 496.99 L118.30 496.89 L119.30 496.79 L120.30 496.68 L121.30 496.57 L122.30 496.45 L123.30 496.34 L124.30 496.22 L125.30 496.10 L126.30 495.98 L127.30 495.86 L128.30 495.73 L129.30 495.61 L130.30 495.48 L131.30 495.35 L132.30 495.22 L133.30 495.08 L134.30 494.95 L135.30 494.81 L136.30 494.68 L137.30 494.54 L138.30 494.40 L139.30 494.26 L140.30 494.11 L141.30 493.97 L142.30 493.83 L143.30 493.68 L144.30 493.54 L145.30 493.39 L146.30 493.25 L147.30 493.10 L148.30 492.95 L149.30 492.81 L150.30 492.67 L151.30 492.52 L152.30 492.38 L153.30 492.24 L154.30 492.10 L155.30 491.97 L156.30 491.83 L157.30 491.70" fill="none" stroke="#000" stroke-width="4" stroke-linecap="butt" stroke-linejoin="round"/>
<path d="M44.30 499.28 L45.30 499.19 L46.30 499.10 L47.30 499.02 L48.30 498.94 L49.30 498.87 L50.30 498.80 L51.30 498.73 L52.30 498.67 L53.30 498.61 L54.30 498.56 L55.30 498.51 L56.30 498.46 L57.30 498.42 L58.30 498.38 L59.30 498.35 L60.30 498.31 L61.30 498.28 L62.30 498.26 L63.30 498.23 L64.30 498.21 L65.30 498.19 L66.30 498.17 L67.30 498.16 L68.30 498.15 L69.30 498.13 L70.30 498.12 L71.30 498.12 L72.30 498.11 L73.30 498.10 L74.30 498.10 L75.30 498.10 L76.30 498.09 L77.30 498.09 L78.30 498.09 L79.30 498.09 L80.30 498.09 L81.30 498.09 L82.30 498.09 L83.30 498.09 L84.30 498.09 L85.30 498.09 L86.30 498.09 L87.30 498.09 L88.30 498.09 L89.30 498.09 L90.30 498.08 L91.30 498.08 L92.30 498.07 L93.30 498.07 L94.30 498.06 L95.30 498.05 L96.30 498.03 L97.30 498.02 L98.30 498.00 L99.30 497.99 L100.30 497.96 L101.30 497.94 L102.30 497.92 L103.30 497.89 L104.30 497.86 L105.30 497.82 L106.30 497.78 L107.30 497.74 L108.30 497.70 L109.30 497.65 L110.30 497.60 L111.30 497.54 L112.30 497.48 L113.30 497.42 L114.30 497.35 L115.30 497.28 L116.30 497.20 L117.30 497.12 L118.30 497.04 L119.30 496.95 L120.30 496.85 L121.30 496.75 L122.30 496.64 L123.30 496.53 L124.30 496.42 L125.30 496.29 L126.30 496.17 L127.30 496.03 L128.30 495.89 L129.30 495.74 L130.30 495.59 L131.30 495.43 L132.30 495.26 L133.30 495.09 L134.30 494.91 L135.30 494.72 L136.30 494.53 L137.30 494.33 L138.30 494.12 L139.30 493.90 L140.30 493.68 L141.30 493.45 L142.30 493.21 L143.30 492.96 L144.30 492.70 L145.30 492.44 L146.30 492.16 L147.30 491.88 L148.30 491.59 L149.30 491.29 L150.30 490.98 L151.30 490.66 L152.30 490.33 L153.30 490.00 L154.30 489.65 L155.30 489.29 L156.30 488.92 L157.30 488.55 L158.30 488.16 L159.30 487.76 L160.30 487.35 L161.30 486.93 L162.30 486.50 L163.30 486.06 L164.30 485.61 L165.30 485.14 L166.30 484.67 L167.30 484.18 L168.30 483.68 L169.30 483.17 L170.30 482.65 L171.30 482.11 L172.30 481.57 L173.30 481.01 L174.30 480.44 L175.30 479.86 L176.30 479.28 L177.30 478.68 L178.30 478.07 L179.30 477.45 L180.30 476.82 L181.30 476.18 L182.30 475.54 L183.30 474.88 L184.30 474.21 L185.30 473.54 L186.30 472.86 L187.30 472.17 L188.30 471.47 L189.30 470.77 L190.30 470.05 L191.30 469.34 L192.30 468.61 L193.30 467.87 L194.30 467.13 L195.30 466.39 L196.30 465.63 L197.30 464.87 L198.30 464.10 L199.30 463.33 L200.30 462.55 L201.30 461.76 L202.30 460.96 L203.30 460.16 L204.30 459.35 L205.30 458.53 L206.30 457.71 L207.30 456.87 L208.30 456.03 L209.30 455.19 L210.30 454.33 L211.30 453.47 L212.30 452.60 L213.30 451.73 L214.30 450.84 L215.30 449.95 L216.30 449.05 L217.30 448.15 L218.30 447.23 L219.30 446.31 L220.30 445.38 L221.30 444.44 L222.30 443.50 L223.30 442.54 L224.30 441.58 L225.30 440.61 L226.30 439.63 L227.30 438.64 L228.30 437.64 L229.30 436.63 L230.30 435.61 L231.30 434.58 L232.30 433.55 L233.30 432.50 L234.30 431.44 L235.30 430.38 L236.30 429.30 L237.30 428.21 L238.30 427.11 L239.30 426.00 L240.30 424.88 L240.70 424.42" fill="none" stroke="#000" stroke-width="4.8" stroke-linecap="butt" stroke-linejoin="round"/>
<path d="M44.30 499.08 L45.30 499.03 L46.30 498.98 L47.30 498.93 L48.30 498.89 L49.30 498.84 L50.30 498.80 L51.30 498.76 L52.30 498.72 L53.30 498.69 L54.30 498.65 L55.30 498.62 L56.30 498.59 L57.30 498.56 L58.30 498.53 L59.30 498.50 L60.30 498.48 L61.30 498.45 L62.30 498.43 L63.30 498.40 L64.30 498.38 L65.30 498.36 L66.30 498.34 L67.30 498.32 L68.30 498.29 L69.30 498.27 L70.30 498.25 L71.30 498.23 L72.30 498.21 L73.30 498.19 L74.30 498.17 L75.30 498.15 L76.30 498.12 L77.30 498.10 L78.30 498.08 L79.30 498.05 L80.30 498.03 L81.30 498.00 L82.30 497.98 L83.30 497.95 L84.30 497.92 L85.30 497.89 L86.30 497.85 L87.30 497.82 L88.30 497.78 L89.30 497.75 L90.30 497.71 L91.30 497.67 L92.30 497.62 L93.30 497.58 L94.30 497.53 L95.30 497.48 L96.30 497.43 L97.30 497.37 L98.30 497.31 L99.30 497.25 L100.30 497.19 L101.30 497.12 L102.30 497.05 L103.30 496.98 L104.30 496.90 L105.30 496.82 L106.30 496.74 L107.30 496.65 L108.30 496.56 L109.30 496.47 L110.30 496.37 L111.30 496.27 L112.30 496.16 L113.30 496.05 L114.30 495.94 L115.30 495.82 L116.30 495.70 L117.30 495.57 L118.30 495.44 L119.30 495.30 L120.30 495.16 L121.30 495.01 L122.30 494.86 L123.30 494.70 L124.30 494.54 L125.30 494.37 L126.30 494.20 L127.30 494.02 L128.30 493.84 L129.30 493.65 L130.30 493.45 L131.30 493.25 L132.30 493.04 L133.30 492.83 L134.30 492.61 L135.30 492.38 L136.30 492.15 L137.30 491.91 L138.30 491.66 L139.30 491.41 L140.30 491.15 L141.30 490.88 L142.30 490.61 L143.30 490.33 L144.30 490.04 L145.30 489.75 L146.30 489.44 L147.30 489.13 L148.30 488.82 L149.30 488.49 L150.30 488.16 L151.30 487.82 L152.30 487.47 L153.30 487.11 L154.30 486.74 L155.30 486.37 L156.30 485.99 L157.30 485.60 L158.30 485.20 L159.30 484.79 L160.30 484.38 L161.30 483.95 L162.30 483.52 L163.30 483.08 L164.30 482.62 L165.30 482.16 L166.30 481.69 L167.30 481.21 L168.30 480.73 L169.30 480.23 L170.30 479.72 L171.30 479.20 L172.30 478.67 L173.30 478.14 L174.30 477.59 L175.30 477.03 L176.30 476.47 L177.30 475.89 L178.30 475.30 L179.30 474.70 L180.30 474.09 L181.30 473.48 L182.30 472.85 L183.30 472.21 L184.30 471.55 L185.30 470.89 L186.30 470.22 L187.30 469.53 L188.30 468.84 L189.30 468.13 L190.30 467.41 L191.30 466.68 L192.30 465.94 L193.30 465.19 L194.30 464.42 L195.30 463.64 L196.30 462.84 L197.30 462.03 L198.30 461.19 L199.30 460.34 L200.30 459.46 L201.30 458.56 L202.30 457.64 L203.30 456.69 L204.30 455.71 L205.30 454.70 L206.30 453.66 L207.30 452.59 L208.30 451.48 L209.30 450.34 L210.30 449.16 L211.30 447.95 L212.30 446.69 L213.30 445.40 L214.30 444.06 L215.30 442.67 L216.30 441.25 L217.30 439.77 L218.30 438.25 L219.30 436.68 L220.30 435.06 L221.30 433.41 L222.30 431.71 L223.30 429.98 L224.30 428.21 L225.30 426.42 L226.30 424.59 L227.30 422.74 L228.30 420.86 L229.30 418.95 L230.30 417.03 L231.30 415.09 L232.30 413.14 L233.30 411.17 L234.30 409.19 L235.30 407.20 L236.30 405.20 L237.30 403.21 L238.30 401.21 L239.30 399.21 L240.30 397.21 L240.70 396.42 L241.70 395.80" fill="none" stroke="#000" stroke-width="4.8" stroke-linecap="butt" stroke-linejoin="round"/>
<g fill="#000"><rect x="43.55" y="497.06" width="3.90" height="3.90" rx="1.09"/><rect x="49.44" y="496.84" width="3.90" height="3.90" rx="1.09"/><rect x="55.34" y="496.66" width="3.90" height="3.90" rx="1.09"/><rect x="61.24" y="496.51" width="3.90" height="3.90" rx="1.09"/><rect x="67.14" y="496.36" width="3.90" height="3.90" rx="1.09"/><rect x="73.04" y="496.19" width="3.90" height="3.90" rx="1.09"/><rect x="78.93" y="495.99" width="3.90" height="3.90" rx="1.09"/><rect x="84.83" y="495.72" width="3.90" height="3.90" rx="1.09"/><rect x="90.72" y="495.37" width="3.90" height="3.90" rx="1.09"/><rect x="96.60" y="494.92" width="3.90" height="3.90" rx="1.09"/><rect x="102.47" y="494.35" width="3.90" height="3.90" rx="1.09"/><rect x="108.33" y="493.63" width="3.90" height="3.90" rx="1.09"/><rect x="114.16" y="492.75" width="3.90" height="3.90" rx="1.09"/><rect x="119.97" y="491.70" width="3.90" height="3.90" rx="1.09"/><rect x="125.73" y="490.45" width="3.90" height="3.90" rx="1.09"/><rect x="131.45" y="488.99" width="3.90" height="3.90" rx="1.09"/><rect x="137.11" y="487.32" width="3.90" height="3.90" rx="1.09"/><rect x="142.69" y="485.43" width="3.90" height="3.90" rx="1.09"/><rect x="148.20" y="483.30" width="3.90" height="3.90" rx="1.09"/><rect x="153.61" y="480.95" width="3.90" height="3.90" rx="1.09"/><rect x="158.91" y="478.37" width="3.90" height="3.90" rx="1.09"/><rect x="164.10" y="475.57" width="3.90" height="3.90" rx="1.09"/><rect x="169.17" y="472.55" width="3.90" height="3.90" rx="1.09"/><rect x="174.11" y="469.32" width="3.90" height="3.90" rx="1.09"/><rect x="178.92" y="465.90" width="3.90" height="3.90" rx="1.09"/><rect x="183.59" y="462.29" width="3.90" height="3.90" rx="1.09"/><rect x="188.12" y="458.52" width="3.90" height="3.90" rx="1.09"/><rect x="192.52" y="454.59" width="3.90" height="3.90" rx="1.09"/><rect x="196.76" y="450.48" width="3.90" height="3.90" rx="1.09"/><rect x="200.80" y="446.19" width="3.90" height="3.90" rx="1.09"/><rect x="204.64" y="441.71" width="3.90" height="3.90" rx="1.09"/><rect x="208.26" y="437.05" width="3.90" height="3.90" rx="1.09"/><rect x="211.68" y="432.24" width="3.90" height="3.90" rx="1.09"/><rect x="214.89" y="427.29" width="3.90" height="3.90" rx="1.09"/><rect x="217.91" y="422.23" width="3.90" height="3.90" rx="1.09"/><rect x="220.77" y="417.06" width="3.90" height="3.90" rx="1.09"/><rect x="223.48" y="411.82" width="3.90" height="3.90" rx="1.09"/><rect x="226.09" y="406.53" width="3.90" height="3.90" rx="1.09"/><rect x="228.63" y="401.21" width="3.90" height="3.90" rx="1.09"/><rect x="231.08" y="395.84" width="3.90" height="3.90" rx="1.09"/><rect x="233.38" y="390.41" width="3.90" height="3.90" rx="1.09"/><rect x="235.53" y="384.91" width="3.90" height="3.90" rx="1.09"/><rect x="238.16" y="380.01" width="2.60" height="2.60" rx="0.73"/></g>
<circle cx="240.90" cy="488.95" r="3.2" fill="#000" stroke="#000" stroke-width="0"/>
<circle cx="162.26" cy="490.29" r="2.4" fill="#000" stroke="#000" stroke-width="0"/>
<rect x="42.00" y="496.70" width="4.6" height="4.6" fill="#ddd" stroke="#000" stroke-width="1.5"/>
<path d="M83.62 493.47 L86.62 498.87 L80.62 498.87 Z" fill="#fff" stroke="#000" stroke-width="1"/>
<rect x="120.40" y="488.70" width="5.2" height="5.2" fill="#fff" stroke="#000" stroke-width="1.7"/>
<g stroke="#000" stroke-width="1.60" stroke-linecap="butt"><line x1="124.00" y1="459.00" x2="124.00" y2="454.90"/><line x1="124.00" y1="459.00" x2="127.90" y2="457.73"/><line x1="124.00" y1="459.00" x2="120.10" y2="457.73"/><line x1="124.00" y1="459.00" x2="126.41" y2="462.32"/><line x1="124.00" y1="459.00" x2="121.59" y2="462.32"/></g>
<g stroke="#000" stroke-width="1.60" stroke-linecap="butt"><line x1="124.00" y1="471.20" x2="124.00" y2="467.10"/><line x1="124.00" y1="471.20" x2="127.90" y2="469.93"/><line x1="124.00" y1="471.20" x2="120.10" y2="469.93"/><line x1="124.00" y1="471.20" x2="126.41" y2="474.52"/><line x1="124.00" y1="471.20" x2="121.59" y2="474.52"/></g>
<g stroke="#000" stroke-width="1.60" stroke-linecap="butt"><line x1="124.00" y1="482.10" x2="124.00" y2="478.00"/><line x1="124.00" y1="482.10" x2="127.90" y2="480.83"/><line x1="124.00" y1="482.10" x2="120.10" y2="480.83"/><line x1="124.00" y1="482.10" x2="126.41" y2="485.42"/><line x1="124.00" y1="482.10" x2="121.59" y2="485.42"/></g>
<g stroke="#000" stroke-width="1.60" stroke-linecap="butt"><line x1="163.00" y1="456.50" x2="163.00" y2="452.40"/><line x1="163.00" y1="456.50" x2="166.90" y2="455.23"/><line x1="163.00" y1="456.50" x2="159.10" y2="455.23"/><line x1="163.00" y1="456.50" x2="165.41" y2="459.82"/><line x1="163.00" y1="456.50" x2="160.59" y2="459.82"/></g>
<g stroke="#000" stroke-width="1.60" stroke-linecap="butt"><line x1="163.00" y1="468.00" x2="163.00" y2="463.90"/><line x1="163.00" y1="468.00" x2="166.90" y2="466.73"/><line x1="163.00" y1="468.00" x2="159.10" y2="466.73"/><line x1="163.00" y1="468.00" x2="165.41" y2="471.32"/><line x1="163.00" y1="468.00" x2="160.59" y2="471.32"/></g>
<g stroke="#000" stroke-width="1.60" stroke-linecap="butt"><line x1="200.80" y1="427.00" x2="200.80" y2="422.90"/><line x1="200.80" y1="427.00" x2="204.70" y2="425.73"/><line x1="200.80" y1="427.00" x2="196.90" y2="425.73"/><line x1="200.80" y1="427.00" x2="203.21" y2="430.32"/><line x1="200.80" y1="427.00" x2="198.39" y2="430.32"/></g>
<g stroke="#000" stroke-width="1.60" stroke-linecap="butt"><line x1="201.00" y1="438.90" x2="201.00" y2="434.80"/><line x1="201.00" y1="438.90" x2="204.90" y2="437.63"/><line x1="201.00" y1="438.90" x2="197.10" y2="437.63"/><line x1="201.00" y1="438.90" x2="203.41" y2="442.22"/><line x1="201.00" y1="438.90" x2="198.59" y2="442.22"/></g>
<g stroke="#000" stroke-width="1.60" stroke-linecap="butt"><line x1="202.70" y1="477.00" x2="202.70" y2="472.90"/><line x1="202.70" y1="477.00" x2="206.60" y2="475.73"/><line x1="202.70" y1="477.00" x2="198.80" y2="475.73"/><line x1="202.70" y1="477.00" x2="205.11" y2="480.32"/><line x1="202.70" y1="477.00" x2="200.29" y2="480.32"/></g>
<g stroke="#000" stroke-width="1.60" stroke-linecap="butt"><line x1="240.90" y1="370.00" x2="240.90" y2="365.90"/><line x1="240.90" y1="370.00" x2="244.80" y2="368.73"/><line x1="240.90" y1="370.00" x2="237.00" y2="368.73"/><line x1="240.90" y1="370.00" x2="243.31" y2="373.32"/><line x1="240.90" y1="370.00" x2="238.49" y2="373.32"/></g>
<g stroke="#000" stroke-width="1.60" stroke-linecap="butt"><line x1="241.50" y1="415.20" x2="241.50" y2="411.10"/><line x1="241.50" y1="415.20" x2="245.40" y2="413.93"/><line x1="241.50" y1="415.20" x2="237.60" y2="413.93"/><line x1="241.50" y1="415.20" x2="243.91" y2="418.52"/><line x1="241.50" y1="415.20" x2="239.09" y2="418.52"/></g>
<g stroke="#000" stroke-width="1.60" stroke-linecap="butt"><line x1="241.00" y1="474.60" x2="241.00" y2="470.50"/><line x1="241.00" y1="474.60" x2="244.90" y2="473.33"/><line x1="241.00" y1="474.60" x2="237.10" y2="473.33"/><line x1="241.00" y1="474.60" x2="243.41" y2="477.92"/><line x1="241.00" y1="474.60" x2="238.59" y2="477.92"/></g>
<text x="413.7" y="354" text-anchor="middle" class="tt">SET-2</text>
<line x1="315.20" y1="364.30" x2="315.20" y2="500.80" stroke="#000" stroke-width="1.7"/>
<line x1="314.20" y1="499.80" x2="513.30" y2="499.80" stroke="#000" stroke-width="1.7"/>
<line x1="315.20" y1="499.80" x2="315.20" y2="504.10" stroke="#000" stroke-width="1.6"/>
<line x1="354.62" y1="499.80" x2="354.62" y2="504.10" stroke="#000" stroke-width="1.6"/>
<line x1="394.04" y1="499.80" x2="394.04" y2="504.10" stroke="#000" stroke-width="1.6"/>
<line x1="433.46" y1="499.80" x2="433.46" y2="504.10" stroke="#000" stroke-width="1.6"/>
<line x1="472.88" y1="499.80" x2="472.88" y2="504.10" stroke="#000" stroke-width="1.6"/>
<line x1="512.30" y1="499.80" x2="512.30" y2="504.10" stroke="#000" stroke-width="1.6"/>
<line x1="310.70" y1="499.80" x2="315.20" y2="499.80" stroke="#000" stroke-width="1.6"/>
<line x1="310.70" y1="466.05" x2="315.20" y2="466.05" stroke="#000" stroke-width="1.6"/>
<line x1="310.70" y1="432.30" x2="315.20" y2="432.30" stroke="#000" stroke-width="1.6"/>
<line x1="310.70" y1="398.55" x2="315.20" y2="398.55" stroke="#000" stroke-width="1.6"/>
<line x1="310.70" y1="364.80" x2="315.20" y2="364.80" stroke="#000" stroke-width="1.6"/>
<text x="315.20" y="519.10" text-anchor="middle" class="tk">0</text>
<text x="354.62" y="519.10" text-anchor="middle" class="tk">2</text>
<text x="394.04" y="519.10" text-anchor="middle" class="tk">4</text>
<text x="433.46" y="519.10" text-anchor="middle" class="tk">6</text>
<text x="472.88" y="519.10" text-anchor="middle" class="tk">8</text>
<text x="512.30" y="519.10" text-anchor="middle" class="tk">10</text>
<text x="305.40" y="470.25" text-anchor="end" class="tk" style="font-size:12.6px">0.2</text>
<text x="305.40" y="436.50" text-anchor="end" class="tk" style="font-size:12.6px">0.4</text>
<text x="305.40" y="402.75" text-anchor="end" class="tk" style="font-size:12.6px">0.6</text>
<text x="305.40" y="369.00" text-anchor="end" class="tk" style="font-size:12.6px">0.8</text>
<text x="298.8" y="504.2" text-anchor="middle" class="tk" style="font-size:12.6px">0</text>
<path d="M315.20 493.89 H492.59" fill="none" stroke="#000" stroke-width="1.6" stroke-linecap="butt" stroke-linejoin="round"/>
<circle cx="374.33" cy="493.89" r="3" fill="#000" stroke="#000" stroke-width="0"/>
<circle cx="433.46" cy="493.89" r="3" fill="#000" stroke="#000" stroke-width="0"/>
<circle cx="492.59" cy="493.89" r="3" fill="#000" stroke="#000" stroke-width="0"/>
<path d="M435.1 466.5 L438.3 472.3 L431.9 472.3 Z" fill="#fff" stroke="#666" stroke-width="0.9"/>
<rect x="490.70" y="383.20" width="6.2" height="6.2" fill="#fff" stroke="#000" stroke-width="1.2"/>
<path d="M315.20 493.89 L316.19 493.89 L317.17 493.89 L318.16 493.89 L319.14 493.89 L320.13 493.89 L321.11 493.89 L322.10 493.89 L323.08 493.89 L324.07 493.88 L325.06 493.88 L326.04 493.88 L327.03 493.87 L328.01 493.86 L329.00 493.86 L329.98 493.85 L330.97 493.84 L331.95 493.82 L332.94 493.81 L333.92 493.80 L334.91 493.78 L335.90 493.76 L336.88 493.74 L337.87 493.72 L338.85 493.69 L339.84 493.66" fill="none" stroke="#000" stroke-width="1.2" stroke-linecap="butt" stroke-linejoin="round"/>
<path d="M339.84 493.66 L340.82 493.63 L341.81 493.60 L342.79 493.57" fill="none" stroke="#000" stroke-width="1.2" stroke-linecap="round" stroke-linejoin="round"/>
<path d="M342.79 493.57 L343.78 493.53 L344.76 493.49 L345.75 493.44" fill="none" stroke="#000" stroke-width="1.52306" stroke-linecap="round" stroke-linejoin="round"/>
<path d="M345.75 493.44 L346.74 493.40 L347.72 493.35 L348.71 493.29" fill="none" stroke="#000" stroke-width="1.8649" stroke-linecap="round" stroke-linejoin="round"/>
<path d="M348.71 493.29 L349.69 493.24 L350.68 493.18 L351.66 493.11" fill="none" stroke="#000" stroke-width="2.20675" stroke-linecap="round" stroke-linejoin="round"/>
<path d="M351.66 493.11 L352.65 493.04 L353.63 492.97 L354.62 492.90" fill="none" stroke="#000" stroke-width="2.54859" stroke-linecap="round" stroke-linejoin="round"/>
<path d="M354.62 492.90 L355.61 492.82 L356.59 492.73 L357.58 492.65" fill="none" stroke="#000" stroke-width="2.89044" stroke-linecap="round" stroke-linejoin="round"/>
<path d="M357.58 492.65 L358.56 492.55 L359.55 492.46 L360.53 492.35" fill="none" stroke="#000" stroke-width="3.23228" stroke-linecap="round" stroke-linejoin="round"/>
<path d="M360.53 492.35 L361.52 492.25 L362.50 492.14 L363.49 492.02" fill="none" stroke="#000" stroke-width="3.57413" stroke-linecap="round" stroke-linejoin="round"/>
<path d="M363.49 492.02 L364.48 491.90 L365.46 491.77 L366.45 491.64" fill="none" stroke="#000" stroke-width="3.91597" stroke-linecap="round" stroke-linejoin="round"/>
<path d="M366.45 491.64 L367.43 491.50 L368.42 491.36 L369.40 491.21" fill="none" stroke="#000" stroke-width="4.25782" stroke-linecap="round" stroke-linejoin="round"/>
<path d="M369.40 491.21 L370.39 491.06 L371.37 490.90 L372.36 490.73" fill="none" stroke="#000" stroke-width="4.59966" stroke-linecap="round" stroke-linejoin="round"/>
<path d="M372.36 490.73 L373.34 490.56 L374.33 490.38 L375.32 490.19 L376.30 490.00 L377.29 489.80 L378.27 489.60 L379.26 489.38 L380.24 489.16 L381.23 488.94 L382.21 488.70 L383.20 488.46 L384.19 488.21 L385.17 487.96 L386.16 487.69 L387.14 487.42 L388.13 487.14 L389.11 486.85 L390.10 486.56 L391.08 486.25 L392.07 485.94 L393.05 485.62 L394.04 485.29 L395.03 484.95 L396.01 484.66 L397.00 484.37 L397.98 484.06 L398.97 483.74 L399.95 483.42 L400.94 483.08 L401.92 482.74 L402.91 482.38 L403.89 482.02 L404.88 481.64 L405.87 481.26 L406.85 480.86 L407.84 480.46 L408.82 480.04 L409.81 479.61 L410.79 479.18 L411.78 478.73 L412.76 478.27 L413.75 477.80 L414.74 477.31 L415.72 476.82 L416.71 476.32 L417.69 475.80 L418.68 475.27 L419.66 474.73 L420.65 474.16 L421.63 473.57 L422.62 472.96 L423.61 472.35 L424.59 471.72 L425.58 471.08 L426.56 470.43 L427.55 469.76 L428.53 469.08 L429.52 468.39 L430.50 467.68 L431.49 466.96 L432.47 466.23 L433.46 465.48 L434.45 464.72 L435.43 463.92 L436.42 463.09 L437.40 462.24 L438.39 461.37 L439.37 460.50 L440.36 459.60 L441.34 458.70 L442.33 457.77 L443.31 456.84 L444.30 455.88 L445.29 454.92 L446.27 453.93 L447.26 452.94 L448.24 451.92 L449.23 450.89 L450.21 449.83 L451.20 448.69 L452.18 447.54 L453.17 446.37 L454.16 445.18 L455.14 443.98 L456.13 442.76 L457.11 441.52 L458.10 440.27 L459.08 439.00 L460.07 437.71 L461.05 436.41 L462.04 435.08 L463.02 433.74 L464.01 432.39 L465.00 431.01 L465.98 429.62 L466.97 428.21 L467.95 426.78 L468.94 425.33 L469.92 423.86 L470.91 422.46 L471.89 421.04 L472.88 419.61 L473.87 418.15 L474.85 416.68 L475.84 415.19 L476.82 413.68 L477.81 412.15 L478.79 410.60 L479.78 409.03 L480.76 407.44 L481.75 405.82 L482.74 404.19 L483.72 402.54 L484.71 400.87 L485.69 399.18 L486.68 397.47 L487.66 395.73 L488.65 393.98 L489.63 392.20 L490.62 390.40 L491.60 388.58 L492.59 386.74" fill="none" stroke="#000" stroke-width="4.9" stroke-linecap="butt" stroke-linejoin="round"/>
<path d="M315.20 493.80 L316.20 493.77 L317.20 493.75 L318.20 493.74 L319.20 493.72 L320.20 493.71 L321.20 493.70 L322.20 493.69 L323.20 493.68 L324.20 493.67 L325.20 493.66 L326.20 493.65 L327.20 493.64 L328.20 493.63 L329.20 493.63 L330.20 493.62 L331.20 493.61 L332.20 493.60 L333.20 493.59 L334.20 493.57 L335.20 493.56 L336.20 493.55 L337.20 493.53 L338.20 493.51 L339.20 493.49 L340.20 493.46" fill="none" stroke="#000" stroke-width="1.2" stroke-linecap="butt" stroke-linejoin="round"/>
<path d="M340.20 493.46 L341.20 493.43 L342.20 493.40 L343.20 493.37" fill="none" stroke="#000" stroke-width="1.22312" stroke-linecap="round" stroke-linejoin="round"/>
<path d="M343.20 493.37 L344.20 493.33 L345.20 493.29 L346.20 493.25" fill="none" stroke="#000" stroke-width="1.57" stroke-linecap="round" stroke-linejoin="round"/>
<path d="M346.20 493.25 L347.20 493.20 L348.20 493.14 L349.20 493.09" fill="none" stroke="#000" stroke-width="1.91687" stroke-linecap="round" stroke-linejoin="round"/>
<path d="M349.20 493.09 L350.20 493.02 L351.20 492.96 L352.20 492.89" fill="none" stroke="#000" stroke-width="2.26375" stroke-linecap="round" stroke-linejoin="round"/>
<path d="M352.20 492.89 L353.20 492.81 L354.20 492.72 L355.20 492.64" fill="none" stroke="#000" stroke-width="2.61062" stroke-linecap="round" stroke-linejoin="round"/>
<path d="M355.20 492.64 L356.20 492.54 L357.20 492.44 L358.20 492.33" fill="none" stroke="#000" stroke-width="2.9575" stroke-linecap="round" stroke-linejoin="round"/>
<path d="M358.20 492.33 L359.20 492.22 L360.20 492.10 L361.20 491.97" fill="none" stroke="#000" stroke-width="3.30437" stroke-linecap="round" stroke-linejoin="round"/>
<path d="M361.20 491.97 L362.20 491.83 L363.20 491.69 L364.20 491.54" fill="none" stroke="#000" stroke-width="3.65125" stroke-linecap="round" stroke-linejoin="round"/>
<path d="M364.20 491.54 L365.20 491.38 L366.20 491.21 L367.20 491.04" fill="none" stroke="#000" stroke-width="3.99812" stroke-linecap="round" stroke-linejoin="round"/>
<path d="M367.20 491.04 L368.20 490.86 L369.20 490.66 L370.20 490.46" fill="none" stroke="#000" stroke-width="4.345" stroke-linecap="round" stroke-linejoin="round"/>
<path d="M370.20 490.46 L371.20 490.25 L372.20 490.03" fill="none" stroke="#000" stroke-width="4.69187" stroke-linecap="round" stroke-linejoin="round"/>
<path d="M372.20 490.03 L373.20 489.80 L374.20 489.56 L375.20 489.31 L376.20 489.05 L377.20 488.78 L378.20 488.50 L379.20 488.21 L380.20 487.91 L381.20 487.59 L382.20 487.27 L383.20 486.93 L384.20 486.58 L385.20 486.22 L386.20 485.85 L387.20 485.46 L388.20 485.06 L389.20 484.65 L390.20 484.22 L391.20 483.78 L392.20 483.33 L393.20 482.87 L394.20 482.38 L395.20 481.89 L396.20 481.38 L397.20 480.86 L398.20 480.32 L399.20 479.76 L400.20 479.19 L401.20 478.61 L402.20 478.01 L403.20 477.39 L404.20 476.76 L405.20 476.11 L406.20 475.44 L407.20 474.76 L408.20 474.06 L409.20 473.34 L410.20 472.60 L411.20 471.85 L412.20 471.08 L413.20 470.29 L414.20 469.48 L415.20 468.66 L416.20 467.81 L417.20 466.95 L418.20 466.07 L419.20 465.16 L420.20 464.24 L421.20 463.30 L422.20 462.34 L423.20 461.36 L424.20 460.36 L425.20 459.34 L426.20 458.31 L427.20 457.26 L428.20 456.19 L429.20 455.11 L430.20 454.01 L431.20 452.90 L432.20 451.78 L433.20 450.64 L434.20 449.49 L435.20 448.33 L436.20 447.16 L437.20 445.99 L438.20 444.80 L439.20 443.60 L440.20 442.40 L441.20 441.19 L442.20 439.97 L443.20 438.75 L444.20 437.52 L445.20 436.29 L446.20 435.06 L447.20 433.82 L448.20 432.58 L449.20 431.34 L450.20 430.10 L451.20 428.86 L452.20 427.62 L453.20 426.38 L454.20 425.15 L455.20 423.91 L456.20 422.68 L457.20 421.45 L458.20 420.23 L459.20 419.02 L460.20 417.81 L461.20 416.60 L462.20 415.41 L463.20 414.22 L464.20 413.04 L465.20 411.88 L466.20 410.72 L467.20 409.57 L468.20 408.44 L469.20 407.31 L470.20 406.20 L471.20 405.11 L472.20 404.03 L473.20 402.96 L474.20 401.91 L475.20 400.88 L476.20 399.86 L477.20 398.86 L478.20 397.88 L479.20 396.92 L480.20 395.98 L481.20 395.06 L482.20 394.16 L483.20 393.29 L484.20 392.43 L485.20 391.60 L486.20 390.80 L487.20 390.02 L488.20 389.26 L489.20 388.53 L490.20 387.83 L491.20 387.15 L492.20 386.51 L492.60 386.26" fill="none" stroke="#000" stroke-width="4.9" stroke-linecap="butt" stroke-linejoin="round"/>
<rect x="431.05" y="447.95" width="6.5" height="6.5" fill="#000" stroke="#000" stroke-width="0"/>
<g fill="#000"><circle cx="321.20" cy="493.95" r="1.30"/><circle cx="327.10" cy="494.08" r="1.30"/><circle cx="333.00" cy="494.13" r="1.30"/><circle cx="338.89" cy="494.06" r="1.30"/><circle cx="344.79" cy="493.82" r="1.40"/><circle cx="350.67" cy="493.38" r="1.51"/><circle cx="356.53" cy="492.72" r="1.63"/><circle cx="362.36" cy="491.79" r="1.75"/><circle cx="368.13" cy="490.57" r="1.86"/><circle cx="373.83" cy="489.04" r="1.98"/><circle cx="379.43" cy="487.18" r="2.09"/><circle cx="384.91" cy="485.00" r="2.10"/><circle cx="390.26" cy="482.51" r="2.10"/><circle cx="395.44" cy="479.70" r="2.10"/><circle cx="400.46" cy="476.60" r="2.10"/><circle cx="405.31" cy="473.23" r="2.10"/><circle cx="409.97" cy="469.62" r="2.10"/><circle cx="414.46" cy="465.79" r="2.10"/><circle cx="418.77" cy="461.77" r="2.10"/><circle cx="422.93" cy="457.58" r="2.10"/><circle cx="426.93" cy="453.24" r="2.10"/><circle cx="430.79" cy="448.78" r="2.10"/><circle cx="434.53" cy="444.22" r="2.10"/><circle cx="438.18" cy="439.59" r="2.10"/><circle cx="441.77" cy="434.90" r="2.10"/><circle cx="445.31" cy="430.18" r="2.10"/><circle cx="448.81" cy="425.43" r="2.10"/><circle cx="452.30" cy="420.68" r="2.10"/><circle cx="455.80" cy="415.92" r="2.10"/><circle cx="459.31" cy="411.18" r="2.10"/><circle cx="462.86" cy="406.47" r="2.10"/><circle cx="466.47" cy="401.80" r="2.10"/><circle cx="470.16" cy="397.20" r="2.10"/><circle cx="473.95" cy="392.68" r="2.10"/><circle cx="477.88" cy="388.27" r="2.10"/><circle cx="481.98" cy="384.03" r="2.10"/><circle cx="486.30" cy="380.02" r="2.10"/><circle cx="490.91" cy="376.34" r="2.10"/></g>
<rect x="312.70" y="491.39" width="5" height="5" fill="#fff" stroke="#000" stroke-width="1"/>
<path d="M315.20 490.65 L318.20 496.05 L312.20 496.05 Z" fill="none" stroke="#000" stroke-width="1"/>
<g stroke="#000" stroke-width="1.60" stroke-linecap="butt"><line x1="376.80" y1="452.50" x2="376.80" y2="448.40"/><line x1="376.80" y1="452.50" x2="380.70" y2="451.23"/><line x1="376.80" y1="452.50" x2="372.90" y2="451.23"/><line x1="376.80" y1="452.50" x2="379.21" y2="455.82"/><line x1="376.80" y1="452.50" x2="374.39" y2="455.82"/></g>
<g stroke="#000" stroke-width="1.60" stroke-linecap="butt"><line x1="376.80" y1="465.40" x2="376.80" y2="461.30"/><line x1="376.80" y1="465.40" x2="380.70" y2="464.13"/><line x1="376.80" y1="465.40" x2="372.90" y2="464.13"/><line x1="376.80" y1="465.40" x2="379.21" y2="468.72"/><line x1="376.80" y1="465.40" x2="374.39" y2="468.72"/></g>
<g stroke="#000" stroke-width="1.60" stroke-linecap="butt"><line x1="376.80" y1="476.80" x2="376.80" y2="472.70"/><line x1="376.80" y1="476.80" x2="380.70" y2="475.53"/><line x1="376.80" y1="476.80" x2="372.90" y2="475.53"/><line x1="376.80" y1="476.80" x2="379.21" y2="480.12"/><line x1="376.80" y1="476.80" x2="374.39" y2="480.12"/></g>
<g stroke="#000" stroke-width="1.60" stroke-linecap="butt"><line x1="432.30" y1="423.80" x2="432.30" y2="419.70"/><line x1="432.30" y1="423.80" x2="436.20" y2="422.53"/><line x1="432.30" y1="423.80" x2="428.40" y2="422.53"/><line x1="432.30" y1="423.80" x2="434.71" y2="427.12"/><line x1="432.30" y1="423.80" x2="429.89" y2="427.12"/></g>
<g stroke="#000" stroke-width="1.60" stroke-linecap="butt"><line x1="432.30" y1="437.70" x2="432.30" y2="433.60"/><line x1="432.30" y1="437.70" x2="436.20" y2="436.43"/><line x1="432.30" y1="437.70" x2="428.40" y2="436.43"/><line x1="432.30" y1="437.70" x2="434.71" y2="441.02"/><line x1="432.30" y1="437.70" x2="429.89" y2="441.02"/></g>
<g stroke="#000" stroke-width="1.60" stroke-linecap="butt"><line x1="433.80" y1="483.00" x2="433.80" y2="478.90"/><line x1="433.80" y1="483.00" x2="437.70" y2="481.73"/><line x1="433.80" y1="483.00" x2="429.90" y2="481.73"/><line x1="433.80" y1="483.00" x2="436.21" y2="486.32"/><line x1="433.80" y1="483.00" x2="431.39" y2="486.32"/></g>
<g stroke="#000" stroke-width="1.60" stroke-linecap="butt"><line x1="492.90" y1="362.70" x2="492.90" y2="358.60"/><line x1="492.90" y1="362.70" x2="496.80" y2="361.43"/><line x1="492.90" y1="362.70" x2="489.00" y2="361.43"/><line x1="492.90" y1="362.70" x2="495.31" y2="366.02"/><line x1="492.90" y1="362.70" x2="490.49" y2="366.02"/></g>
<g stroke="#000" stroke-width="1.60" stroke-linecap="butt"><line x1="492.90" y1="403.00" x2="492.90" y2="398.90"/><line x1="492.90" y1="403.00" x2="496.80" y2="401.73"/><line x1="492.90" y1="403.00" x2="489.00" y2="401.73"/><line x1="492.90" y1="403.00" x2="495.31" y2="406.32"/><line x1="492.90" y1="403.00" x2="490.49" y2="406.32"/></g>
<g stroke="#000" stroke-width="1.60" stroke-linecap="butt"><line x1="491.70" y1="481.70" x2="491.70" y2="477.60"/><line x1="491.70" y1="481.70" x2="495.60" y2="480.43"/><line x1="491.70" y1="481.70" x2="487.80" y2="480.43"/><line x1="491.70" y1="481.70" x2="494.11" y2="485.02"/><line x1="491.70" y1="481.70" x2="489.29" y2="485.02"/></g>
<text x="142.8" y="547.5" text-anchor="middle" class="xl">Day of culture</text>
<text x="412.9" y="547.5" text-anchor="middle" class="xl">Day of culture</text>
<text transform="translate(13.2,189.0) rotate(-90) scale(1.052,1)" text-anchor="middle" class="yl">Cell number (10<tspan dy="-4.2" font-size="10.5">-6</tspan><tspan dy="4.2">/mL)</tspan></text>
<text transform="translate(13.9,431.2) rotate(-90) scale(1.052,1)" text-anchor="middle" class="yl">Cell number (10<tspan dy="-4.2" font-size="10.5">-6</tspan><tspan dy="4.2">/mL)</tspan></text>
</svg></body></html>
